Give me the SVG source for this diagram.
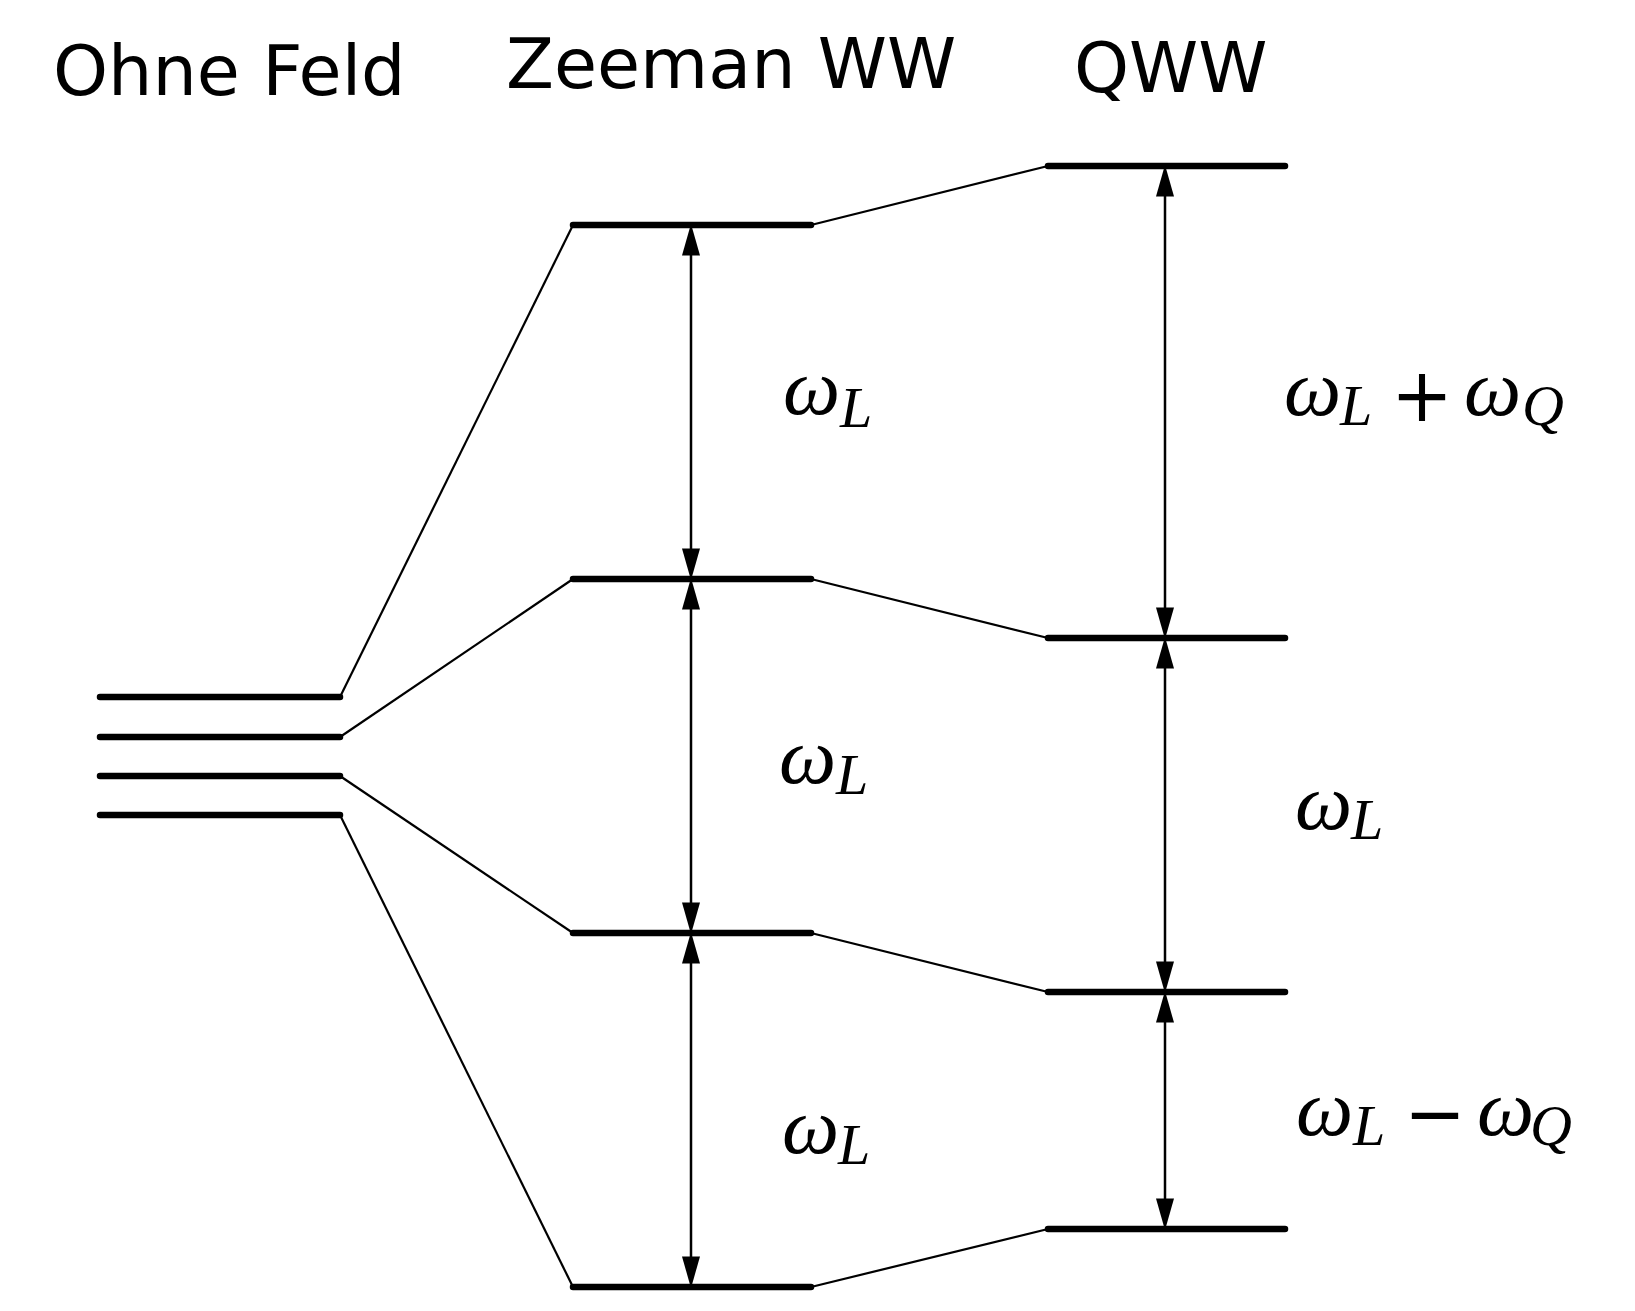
<svg xmlns="http://www.w3.org/2000/svg" width="1635" height="1311" viewBox="0 0 1635 1311">
<style>
.title{font-family:"DejaVu Sans",sans-serif;font-size:70px;fill:#000}
.m{font-family:"Liberation Serif",serif;font-style:italic;font-size:81px;fill:#000}
.s{font-size:58px}
.op{font-family:"DejaVu Sans",sans-serif;font-size:74px;fill:#000}
.lvl{stroke:#000;stroke-width:6.5;stroke-linecap:round;fill:none}
.con{stroke:#000;stroke-width:2.2;fill:none}
.arr{stroke:#000;stroke-width:2.5;fill:none;marker-start:url(#ah);marker-end:url(#ah)}
</style>
<defs>
<marker id="ah" markerUnits="userSpaceOnUse" markerWidth="32" markerHeight="18" viewBox="0 0 30 17" refX="10" refY="8.5" orient="auto-start-reverse">
<path d="M0,0 L30,8.5 L0,17 z" fill="#000"/>
</marker>
</defs>
<rect width="1635" height="1311" fill="#fff"/>
<g id="titles">
<text class="title" x="53" y="94.5">Ohne Feld</text>
<text class="title" x="506" y="88">Zeeman WW</text>
<text class="title" x="1074" y="92">QWW</text>
</g>
<g id="connectors">
<line class="con" x1="340" y1="697" x2="573" y2="225"/>
<line class="con" x1="340" y1="737" x2="573" y2="579"/>
<line class="con" x1="340" y1="776" x2="573" y2="933"/>
<line class="con" x1="340" y1="815" x2="573" y2="1287"/>
<line class="con" x1="811" y1="225" x2="1048" y2="166"/>
<line class="con" x1="811" y1="579" x2="1048" y2="638"/>
<line class="con" x1="811" y1="933" x2="1048" y2="992"/>
<line class="con" x1="811" y1="1287" x2="1048" y2="1229"/>
<line class="arr" x1="691" y1="245" x2="691" y2="559"/>
<line class="arr" x1="691" y1="599" x2="691" y2="913"/>
<line class="arr" x1="691" y1="953" x2="691" y2="1267"/>
<line class="arr" x1="1165" y1="186" x2="1165" y2="618"/>
<line class="arr" x1="1165" y1="658" x2="1165" y2="972"/>
<line class="arr" x1="1165" y1="1012" x2="1165" y2="1209"/>
</g>
<g id="ohne-feld">
<line class="lvl" x1="100" y1="697" x2="340" y2="697"/>
<line class="lvl" x1="100" y1="737" x2="340" y2="737"/>
<line class="lvl" x1="100" y1="776" x2="340" y2="776"/>
<line class="lvl" x1="100" y1="815" x2="340" y2="815"/>
</g>
<g id="zeeman">
<line class="lvl" x1="573" y1="225" x2="811" y2="225"/>
<line class="lvl" x1="573" y1="579" x2="811" y2="579"/>
<line class="lvl" x1="573" y1="933" x2="811" y2="933"/>
<line class="lvl" x1="573" y1="1287" x2="811" y2="1287"/>
</g>
<g id="qww">
<line class="lvl" x1="1048" y1="166" x2="1285" y2="166"/>
<line class="lvl" x1="1048" y1="638" x2="1285" y2="638"/>
<line class="lvl" x1="1048" y1="992" x2="1285" y2="992"/>
<line class="lvl" x1="1048" y1="1229" x2="1285" y2="1229"/>
</g>
<g id="labels">
<text class="m" x="783" y="414">ω<tspan class="s" x="840" y="427">L</tspan></text>
<text class="m" x="779" y="783">ω<tspan class="s" x="836" y="794">L</tspan></text>
<text class="m" x="782" y="1153">ω<tspan class="s" x="838" y="1164">L</tspan></text>
<text class="m" x="1284" y="415">ω<tspan class="s" x="1340" y="425">L</tspan></text>
<text class="op" x="1422" y="421" text-anchor="middle">+</text>
<text class="m" x="1464" y="415">ω<tspan class="s" x="1522" y="425">Q</tspan></text>
<text class="m" x="1295" y="829">ω<tspan class="s" x="1351" y="839">L</tspan></text>
<text class="m" x="1296" y="1135">ω<tspan class="s" x="1353" y="1145">L</tspan></text>
<text class="op" x="1435" y="1139" text-anchor="middle">−</text>
<text class="m" x="1477" y="1135">ω<tspan class="s" x="1530" y="1145">Q</tspan></text>
</g>
</svg>
